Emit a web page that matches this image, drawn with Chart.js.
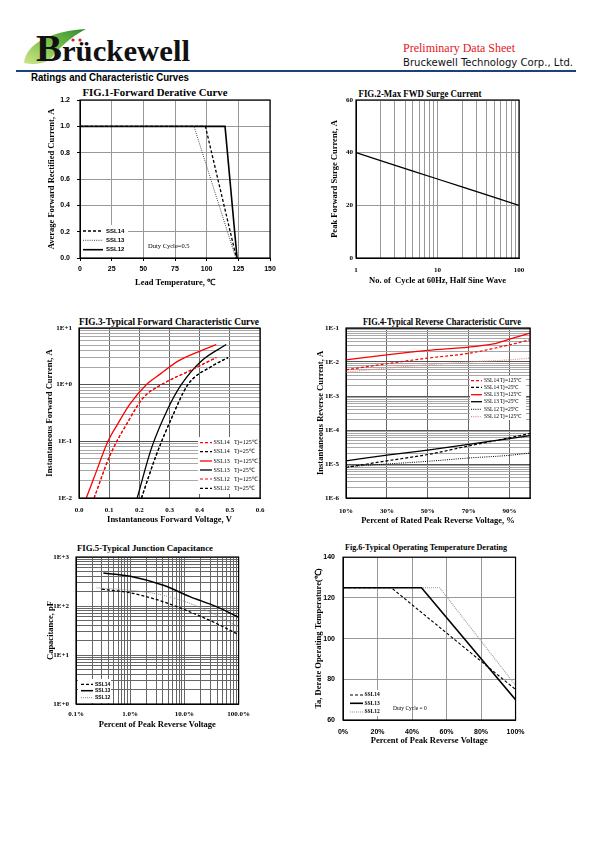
<!DOCTYPE html>
<html>
<head>
<meta charset="utf-8">
<script src="https://cdn.jsdelivr.net/npm/chart.js@4.4.0/dist/chart.umd.min.js"></script>
<style>
body { margin: 0; width: 595px; height: 842px; position: relative; background: #fff; overflow: hidden; }
canvas { position: absolute; }
.abs { position: absolute; }
.ttl { position: absolute; white-space: nowrap; font-family: "Liberation Serif", "Times New Roman", serif; font-weight: bold; color: #000; transform: translate(-50%, -50%); }
</style>
</head>
<body>

<svg class="abs" style="left:0;top:0" width="595" height="90">
  <defs>
    <linearGradient id="leaf" x1="0" y1="1" x2="1" y2="0">
      <stop offset="0" stop-color="#cfe58a"/>
      <stop offset="0.5" stop-color="#7cc24a"/>
      <stop offset="1" stop-color="#2e8b2e"/>
    </linearGradient>
  </defs>
  <path d="M24,63 C26,44 50,31 86,29 C70,37 58,49 50,60 C42,64 32,65 24,63 Z" fill="url(#leaf)"/>
  <text x="36" y="61" font-family="Liberation Serif" font-weight="bold" textLength="154" lengthAdjust="spacingAndGlyphs" fill="#111"><tspan font-size="38">B</tspan><tspan font-size="30">rückewell</tspan></text>
  <circle cx="73" cy="40" r="1.6" fill="#d42020"/>
  <circle cx="80" cy="40" r="1.6" fill="#d42020"/>
  <text x="403" y="52" font-family="Liberation Serif" font-size="12.5" fill="#e3151a" textLength="112" lengthAdjust="spacingAndGlyphs">Preliminary Data Sheet</text>
  <text x="403" y="66" font-family="DejaVu Sans" font-size="10" fill="#111" textLength="170" lengthAdjust="spacingAndGlyphs">Bruckewell Technology Corp., Ltd.</text>
  <rect x="16" y="70" width="560" height="2" fill="#1d3f7a"/>
  <text x="31" y="81" font-family="Liberation Sans" font-weight="bold" font-size="10.5" fill="#000" textLength="158" lengthAdjust="spacingAndGlyphs">Ratings and Characteristic Curves</text>
</svg>

<div class="ttl" style="left:155px;top:92px;font-size:10px" data-w="145">FIG.1-Forward Derative Curve</div>
<div class="ttl" style="left:420px;top:94px;font-size:9.5px" data-w="123">FIG.2-Max FWD Surge Current</div>
<div class="ttl" style="left:169px;top:321px;font-size:10px" data-w="180">FIG.3-Typical Forward Characteristic Curve</div>
<div class="ttl" style="left:442px;top:321px;font-size:10px" data-w="158">FIG.4-Typical Reverse Characteristic Curve</div>
<div class="ttl" style="left:145px;top:548px;font-size:9px" data-w="136">FIG.5-Typical Junction Capacitance</div>
<div class="ttl" style="left:426px;top:547px;font-size:9px" data-w="162">Fig.6-Typical Operating Temperature Derating</div>

<canvas id="fig1"></canvas>
<canvas id="fig2"></canvas>
<canvas id="fig3"></canvas>
<canvas id="fig4"></canvas>
<canvas id="fig5"></canvas>
<canvas id="fig6"></canvas>

<script>
// ---------- FIG.1 Forward derating ----------
const fig1Names = ['SSL14', 'SSL13', 'SSL12'];
const fig1Ssl14T = [0, 99, 123.5];
const fig1Ssl14I = [1.0, 1.0, 0.0];
const fig1Ssl13T = [0, 90, 123];
const fig1Ssl13I = [1.0, 1.0, 0.0];
const fig1Ssl12T = [0, 114.5, 124];
const fig1Ssl12I = [1.0, 1.0, 0.0];
const fig1XTicks = [0, 25, 50, 75, 100, 125, 150];
const fig1YTicks = [0, 0.2, 0.4, 0.6, 0.8, 1.0, 1.2];

// ---------- FIG.2 Surge current ----------
const fig2Cycles = [1, 2, 5, 10, 20, 50, 100];
const fig2Amps = [40, 37, 33, 30, 27, 23, 20];
const fig2XLabels = [1, 10, 100];
const fig2YTicks = [0, 20, 40, 60];

// ---------- FIG.3 Forward characteristic ----------
const fig3Names = ['SSL14', 'SSL14', 'SSL13', 'SSL13', 'SSL12', 'SSL12'];
const fig3Temps = ['Tj=125℃', 'Tj=25℃', 'Tj=125℃', 'Tj=25℃', 'Tj=125℃', 'Tj=25℃'];
const fig3Ssl14HotV = [0.05, 0.103, 0.162, 0.212, 0.273, 0.361, 0.455];
const fig3Ssl14HotI = [0.01, 0.057, 0.22, 0.58, 1.0, 1.7, 3.0];
const fig3Ssl14ColdV = [0.207, 0.256, 0.306, 0.361, 0.439, 0.494];
const fig3Ssl14ColdI = [0.01, 0.057, 0.25, 1.0, 2.1, 3.0];
const fig3Ssl13HotV = [0.024, 0.05, 0.096, 0.13, 0.168, 0.223, 0.27, 0.328, 0.405, 0.455];
const fig3Ssl13HotI = [0.01, 0.023, 0.1, 0.21, 0.45, 1.0, 1.55, 2.6, 4.0, 5.1];
const fig3Ssl13ColdV = [0.193, 0.24, 0.295, 0.339, 0.405, 0.488];
const fig3Ssl13ColdI = [0.01, 0.075, 0.38, 1.0, 2.6, 5.1];
const fig3Ssl12HotV = [0.05, 0.103, 0.162, 0.212, 0.273, 0.361, 0.455];
const fig3Ssl12HotI = [0.01, 0.057, 0.22, 0.58, 1.0, 1.7, 3.0];
const fig3Ssl12ColdV = [0.207, 0.256, 0.306, 0.361, 0.439, 0.494];
const fig3Ssl12ColdI = [0.01, 0.057, 0.25, 1.0, 2.1, 3.0];
const fig3XTicks = [0, 0.1, 0.2, 0.3, 0.4, 0.5, 0.6];

// ---------- FIG.4 Reverse characteristic ----------
const fig4Names = ['SSL14', 'SSL14', 'SSL13', 'SSL13', 'SSL12', 'SSL12'];
const fig4Temps = ['Tj=125℃', 'Tj=25℃', 'Tj=125℃', 'Tj=25℃', 'Tj=25℃', 'Tj=125℃'];
const fig4Pct = [10, 30, 50, 70, 90, 100];
const fig4PctSsl13Hot = [10, 30, 50, 70, 82, 90, 100];
const fig4Ssl14Hot = [0.0059, 0.0089, 0.013, 0.018, 0.032, 0.045];
const fig4Ssl14Cold = [7.9e-6, 1.24e-5, 1.9e-5, 3.4e-5, 5.9e-5, 7.9e-5];
const fig4Ssl13Hot = [0.0116, 0.0163, 0.022, 0.0275, 0.034, 0.047, 0.071];
const fig4Ssl13Cold = [1.24e-5, 1.82e-5, 2.57e-5, 3.76e-5, 5.6e-5, 6.8e-5];
const fig4Ssl12Cold = [8.3e-6, 1.0e-5, 1.2e-5, 1.5e-5, 1.8e-5, 2.1e-5];
const fig4Ssl12Hot = [0.005, 0.0066, 0.0083, 0.010, 0.0116, 0.013];
const fig4XTicks = [10, 30, 50, 70, 90, 100];

// ---------- FIG.5 Junction capacitance ----------
const fig5Names = ['SSL14', 'SSL13', 'SSL12'];
const fig5Ssl14V = [0.3, 1.0, 4.1, 12.6, 39, 100];
const fig5Ssl14C = [220, 186, 122, 76, 44, 26];
const fig5Ssl13V = [0.32, 1.0, 4.1, 12.6, 39, 100];
const fig5Ssl13C = [473, 404, 265, 155, 97, 59];
const fig5Ssl12V = [0.24, 1.0, 4.1, 12.6, 39, 100];
const fig5Ssl12C = [235, 210, 165, 113, 65, 37];

// ---------- FIG.6 Operating temperature derating ----------
const fig6Names = ['SSL14', 'SSL13', 'SSL12'];
const fig6Ssl14V = [0, 28, 100];
const fig6Ssl14T = [125, 125, 75];
const fig6Ssl13V = [0, 45.5, 100];
const fig6Ssl13T = [125, 125, 70];
const fig6Ssl12V = [0, 56, 100];
const fig6Ssl12T = [125, 125, 77];
const fig6XTicks = [0, 20, 40, 60, 80, 100];
const fig6YTicks = [60, 80, 100, 120, 140];

const SERIF = '"Liberation Serif", "Times New Roman", serif';
const SANS = '"Liberation Sans", Arial, sans-serif';

const pts = (xs, ys) => xs.map((x, i) => ({ x: x, y: ys[i] }));
const logGrid = (lo, hi) => {
    const out = [];
    for (let d = lo; d < hi * 0.999; d *= 10)
        for (let k = 1; k < 10; k++) out.push(+(k * d).toPrecision(3));
    out.push(hi);
    return out;
};
const exp10 = v => Math.round(Math.log10(v));
const isDecade = v => Math.abs(Math.log10(v) - exp10(v)) < 1e-6;

function line(data, color, dash, width, smooth) {
    return {
        data: data, borderColor: color, backgroundColor: color, borderDash: dash,
        borderWidth: width, showLine: true, pointRadius: 0, fill: false,
        cubicInterpolationMode: smooth ? 'monotone' : 'default', tension: 0
    };
}

function axis(o) {
    return {
        type: o.type || 'linear', position: o.pos, min: o.min, max: o.max,
        afterBuildTicks: s => { s.ticks = o.ticks.map(v => ({ value: v })); },
        ticks: {
            autoSkip: false, maxRotation: 0, minRotation: 0, padding: o.pad, color: '#000',
            font: { family: o.tickFamily || SANS, size: o.tickSize || 7, weight: 'bold' },
            callback: v => o.fmt(v)
        },
        grid: {
            color: o.gridColor || '#999', lineWidth: 1,
            drawTicks: !!o.tickLen, tickLength: o.tickLen || 0, tickColor: '#000'
        },
        border: { color: '#000', width: 1 },
        title: {
            display: true, text: o.title, color: '#000', padding: 0,
            font: { family: SERIF, size: 8.5, weight: 'bold' }
        }
    };
}

// legend boxes drawn inside the plot, in page coordinates
const legendSpecs = {};

const inLegend = {
    id: 'inLegend',
    beforeDatasetsDraw(chart) {
        const o = legendSpecs[chart.canvas.id];
        if (!o) return;
        const ctx = chart.ctx;
        ctx.save();
        ctx.translate(-o.ox, -o.oy);
        if (o.bg) {
            ctx.fillStyle = '#fff';
            ctx.fillRect(o.bg[0], o.bg[1], o.bg[2], o.bg[3]);
        }
        o.rows.forEach((r, i) => {
            const ds = chart.data.datasets[r[0]];
            const y = o.ys[i];
            ctx.strokeStyle = ds.borderColor;
            ctx.lineWidth = ds.borderWidth;
            ctx.setLineDash(ds.borderDash || []);
            ctx.beginPath();
            ctx.moveTo(o.x1, y);
            ctx.lineTo(o.x2, y);
            ctx.stroke();
            ctx.setLineDash([]);
            ctx.fillStyle = '#000';
            ctx.font = o.font;
            ctx.textBaseline = 'middle';
            ctx.textAlign = 'left';
            r.slice(1).forEach((t, j) => ctx.fillText(t, o.tx[j], y));
        });
        (o.notes || []).forEach(n => {
            ctx.fillStyle = '#000';
            ctx.font = n.font;
            ctx.textBaseline = 'middle';
            ctx.fillText(n.text, n.x, n.y);
        });
        ctx.restore();
    }
};

const frame = {
    id: 'frame',
    afterDatasetsDraw(chart) {
        const { ctx, chartArea: a } = chart;
        ctx.save();
        ctx.strokeStyle = '#000';
        ctx.lineWidth = 1.2;
        ctx.strokeRect(a.left, a.top, a.right - a.left, a.bottom - a.top);
        ctx.restore();
    }
};

function buildChart(id, box, area, datasets, xAxis, yAxis, legend) {
    const cv = document.getElementById(id);
    const [bl, bt, br, bb] = box;
    cv.width = br - bl;
    cv.height = bb - bt;
    cv.style.left = bl + 'px';
    cv.style.top = bt + 'px';
    xAxis.afterFit = s => { s.height = bb - area[3]; };
    yAxis.afterFit = s => { s.width = area[0] - bl; };
    if (legend) legendSpecs[id] = Object.assign({ ox: bl, oy: bt }, legend);
    return new Chart(cv.getContext('2d'), {
        type: 'scatter',
        data: { datasets: datasets },
        options: {
            responsive: false,
            animation: false,
            layout: { padding: { top: area[1] - bt, right: br - area[2], left: 0, bottom: 0 } },
            plugins: { legend: { display: false }, tooltip: { enabled: false } },
            scales: { x: xAxis, y: yAxis }
        },
        plugins: [inLegend, frame]
    });
}

// FIG.1
buildChart('fig1', [47, 86, 287, 288], [80, 100, 270, 258], [
    line(pts(fig1Ssl14T, fig1Ssl14I), '#000', [3, 2], 1.3),
    line(pts(fig1Ssl13T, fig1Ssl13I), '#444', [1, 1.2], 1),
    line(pts(fig1Ssl12T, fig1Ssl12I), '#000', [], 1.6)
], axis({
    pos: 'bottom', min: 0, max: 150, ticks: fig1XTicks, pad: 4, tickLen: 3,
    fmt: v => String(v), title: 'Lead Temperature, ℃'
}), axis({
    pos: 'left', min: 0, max: 1.2, ticks: fig1YTicks, pad: 7, tickLen: 3,
    fmt: v => v.toFixed(1), title: 'Average Forward Rectified Current, A'
}), {
    bg: [81, 225, 47, 32], x1: 83, x2: 103, tx: [106], ys: [231, 240.3, 249.7],
    font: 'bold 6px ' + SANS,
    rows: [[0, fig1Names[0]], [1, fig1Names[1]], [2, fig1Names[2]]],
    notes: [{ text: 'Duty Cycle=0.5', x: 148, y: 246.5, font: '6.5px ' + SERIF }]
});

// FIG.2
buildChart('fig2', [330, 88, 537, 286], [356, 100, 519, 258], [
    line(pts(fig2Cycles, fig2Amps), '#000', [], 1.3)
], axis({
    type: 'logarithmic', pos: 'bottom', min: 1, max: 100, ticks: logGrid(1, 100), pad: 8,
    fmt: v => fig2XLabels.includes(v) ? String(v) : '', title: 'No. of  Cycle at 60Hz, Half Sine Wave',
    tickFamily: SERIF
}), axis({
    pos: 'left', min: 0, max: 60, ticks: fig2YTicks, pad: 3,
    fmt: v => String(v), title: 'Peak Forward Surge Current, A', tickFamily: SERIF
}));

// FIG.3
const logColor = c => (isDecade(c.tick.value) ? '#555' : '#a8a8a8');
buildChart('fig3', [45, 316, 275, 525], [79, 328, 260, 498], [
    line(pts(fig3Ssl14HotV, fig3Ssl14HotI), '#ff0000', [3, 2], 1.2, true),
    line(pts(fig3Ssl14ColdV, fig3Ssl14ColdI), '#000', [3, 2], 1.2, true),
    line(pts(fig3Ssl13HotV, fig3Ssl13HotI), '#ff0000', [], 1.3, true),
    line(pts(fig3Ssl13ColdV, fig3Ssl13ColdI), '#000', [], 1.3, true),
    line(pts(fig3Ssl12HotV, fig3Ssl12HotI), '#ff0000', [3, 2], 1.2, true),
    line(pts(fig3Ssl12ColdV, fig3Ssl12ColdI), '#000', [3, 2], 1.2, true)
], axis({
    pos: 'bottom', min: 0, max: 0.6, ticks: fig3XTicks, pad: 7.5, gridColor: '#666',
    fmt: v => v.toFixed(1), title: 'Instantaneous Forward Voltage, V', tickFamily: SERIF
}), axis({
    type: 'logarithmic', pos: 'left', min: 0.01, max: 10, ticks: logGrid(0.01, 10), pad: 7,
    gridColor: logColor, tickFamily: SERIF,
    fmt: v => isDecade(v) ? (exp10(v) >= 0 ? '1E+' + exp10(v) : '1E' + exp10(v)) : '',
    title: 'Instantaneous Forward Current, A'
}), {
    bg: [198, 437, 61, 57], x1: 200, x2: 212, tx: [213.5, 234],
    ys: [442.7, 451.7, 461, 470, 479, 488.3], font: '6px ' + SERIF,
    rows: fig3Names.map((n, i) => [i, n, fig3Temps[i]])
});

// FIG.4
buildChart('fig4', [316, 316, 545, 526], [346, 328, 530, 498], [
    line(pts(fig4Pct, fig4Ssl14Hot), '#ff0000', [3, 2], 1.2, true),
    line(pts(fig4Pct, fig4Ssl14Cold), '#000', [3, 2], 1.2, true),
    line(pts(fig4PctSsl13Hot, fig4Ssl13Hot), '#ff0000', [], 1.3, true),
    line(pts(fig4Pct, fig4Ssl13Cold), '#000', [], 1.3, true),
    line(pts(fig4Pct, fig4Ssl12Cold), '#000', [1, 1.2], 1, true),
    line(pts(fig4Pct, fig4Ssl12Hot), '#f08a8a', [1, 1.2], 1.2, true)
], axis({
    pos: 'bottom', min: 10, max: 100, ticks: fig4XTicks, pad: 8.5, gridColor: '#666',
    fmt: v => (v < 100 ? v + '%' : ''), title: 'Percent of Rated Peak Reverse Voltage, %', tickFamily: SERIF
}), axis({
    type: 'logarithmic', pos: 'left', min: 1e-6, max: 0.1, ticks: logGrid(1e-6, 0.1), pad: 7,
    gridColor: logColor, tickFamily: SERIF,
    fmt: v => isDecade(v) ? '1E' + exp10(v) : '',
    title: 'Instantaneous Reverse Current, A'
}), {
    bg: [470, 376, 56, 44], x1: 471, x2: 482, tx: [484, 500],
    ys: [380.7, 387.3, 394.7, 401.7, 409.3, 416.7], font: '5.5px ' + SERIF,
    rows: fig4Names.map((n, i) => [i, n, fig4Temps[i]])
});

// FIG.5
buildChart('fig5', [46, 545, 256, 730], [76, 557, 239, 704], [
    line(pts(fig5Ssl14V, fig5Ssl14C), '#000', [3, 2], 1.3, true),
    line(pts(fig5Ssl13V, fig5Ssl13C), '#000', [], 1.5, true),
    line(pts(fig5Ssl12V, fig5Ssl12C), '#888', [1, 1], 1, true)
], axis({
    type: 'logarithmic', pos: 'bottom', min: 0.1, max: 100, ticks: logGrid(0.1, 100), pad: 6,
    gridColor: '#666', tickFamily: SERIF,
    fmt: v => isDecade(v) ? v.toFixed(1) + '%' : '', title: 'Percent of Peak Reverse Voltage'
}), axis({
    type: 'logarithmic', pos: 'left', min: 1, max: 1000, ticks: logGrid(1, 1000), pad: 7,
    gridColor: '#666', tickFamily: SERIF,
    fmt: v => isDecade(v) ? '1E+' + exp10(v) : '', title: 'Capacitance, pF'
}), {
    bg: [78, 679, 33, 24], x1: 81, x2: 93, tx: [95], ys: [684.3, 690.7, 697.7],
    font: 'bold 5px ' + SANS,
    rows: [[0, fig5Names[0]], [1, fig5Names[1]], [2, fig5Names[2]]]
});

// FIG.6
buildChart('fig6', [314, 545, 532, 746], [343, 555, 517, 720], [
    line(pts(fig6Ssl14V, fig6Ssl14T), '#000', [3, 2], 1.1),
    line(pts(fig6Ssl13V, fig6Ssl13T), '#000', [], 1.6),
    line(pts(fig6Ssl12V, fig6Ssl12T), '#999', [1, 1], 1.1)
], axis({
    pos: 'bottom', min: 0, max: 100, ticks: fig6XTicks, pad: 7.5,
    fmt: v => v + '%', title: 'Percent of Peak Reverse Voltage'
}), axis({
    pos: 'left', min: 60, max: 140, ticks: fig6YTicks, pad: 8,
    fmt: v => String(v), title: 'Ta, Derate Operating Temperature(℃)'
}), {
    bg: [348, 690, 40, 26], x1: 350, x2: 363, tx: [364.5], ys: [695, 703.3, 712],
    font: 'bold 5.5px ' + SERIF,
    rows: [[0, fig6Names[0]], [1, fig6Names[1]], [2, fig6Names[2]]],
    notes: [{ text: 'Duty Cycle = 0', x: 393, y: 708.7, font: '5.5px ' + SERIF }]
});

// squeeze chart titles to the widths of the original
document.querySelectorAll('.ttl').forEach(el => {
    const w = el.getBoundingClientRect().width;
    el.style.transform = 'translate(-50%, -50%) scaleX(' + (el.dataset.w / w) + ')';
});
</script>
</body>
</html>
